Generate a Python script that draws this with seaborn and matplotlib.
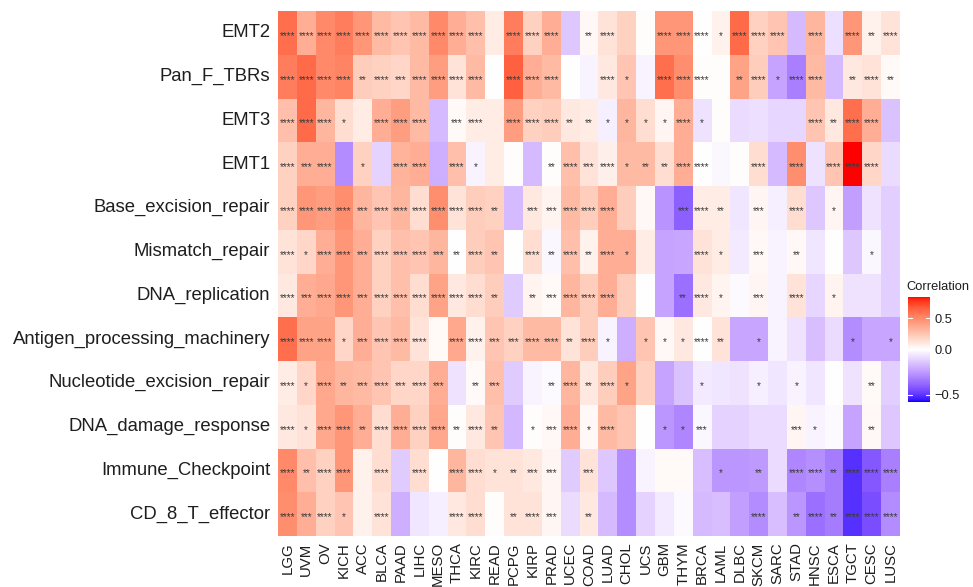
import numpy as np
import pandas as pd
import matplotlib
matplotlib.use("Agg")
import matplotlib.pyplot as plt
from matplotlib.colors import ListedColormap, TwoSlopeNorm
from matplotlib.transforms import offset_copy
import seaborn as sns

cancers = ["LGG", "UVM", "OV", "KICH", "ACC", "BLCA", "PAAD", "LIHC", "MESO", "THCA",
           "KIRC", "READ", "PCPG", "KIRP", "PRAD", "UCEC", "COAD", "LUAD", "CHOL", "UCS",
           "GBM", "THYM", "BRCA", "LAML", "DLBC", "SKCM", "SARC", "STAD", "HNSC", "ESCA",
           "TGCT", "CESC", "LUSC"]

pathways = ["EMT2", "Pan_F_TBRs", "EMT3", "EMT1", "Base_excision_repair", "Mismatch_repair",
            "DNA_replication", "Antigen_processing_machinery", "Nucleotide_excision_repair",
            "DNA_damage_response", "Immune_Checkpoint", "CD_8_T_effector"]

emt2 = [0.60, 0.35, 0.50, 0.55, 0.45, 0.30, 0.25, 0.30, 0.50, 0.35, 0.28, 0.08, 0.55, 0.20, 0.35, -0.14, 0.03,
        0.12, 0.20, 0.01, 0.45, 0.45, 0.00, 0.06, 0.62, 0.20, 0.25, -0.17, 0.32, -0.08, 0.45, 0.06, 0.12]
emt2_p = ["****", "****", "****", "****", "****", "****", "****", "****", "****", "****", "****", "", "****", "****", "****", "", "**",
          "****", "", "", "****", "****", "****", "*", "****", "****", "****", "", "****", "", "****", "**", "****"]

pan_f_tbrs = [0.55, 0.62, 0.50, 0.52, 0.22, 0.20, 0.18, 0.30, 0.42, 0.12, 0.30, 0.00, 0.65, 0.35, 0.30, 0.00, -0.03,
              0.10, 0.25, -0.03, 0.60, 0.48, 0.01, 0.01, 0.40, 0.22, -0.23, -0.32, 0.30, -0.17, 0.10, 0.12, 0.02]
pan_f_tbrs_p = ["****", "****", "****", "****", "**", "****", "***", "****", "****", "****", "****", "", "****", "****", "****", "", "",
                "****", "*", "", "****", "****", "****", "", "**", "****", "*", "****", "****", "", "**", "****", "**"]

emt3 = [0.28, 0.62, 0.32, 0.15, 0.08, 0.35, 0.42, 0.30, -0.17, 0.02, 0.08, 0.08, 0.42, 0.20, 0.22, 0.10, 0.08,
        -0.04, 0.32, 0.15, 0.04, 0.35, -0.07, 0.01, -0.09, -0.08, -0.10, -0.10, 0.25, 0.10, 0.60, 0.35, -0.15]
emt3_p = ["****", "****", "****", "*", "", "****", "****", "****", "", "***", "****", "", "****", "****", "****", "**", "**",
          "*", "*", "*", "*", "****", "*", "", "", "", "", "", "****", "**", "****", "****", ""]

emt1 = [0.20, 0.35, 0.35, -0.29, 0.20, -0.11, 0.33, 0.35, -0.20, 0.28, -0.03, 0.08, 0.01, -0.17, 0.01, 0.28, 0.12,
        0.07, 0.30, 0.30, 0.15, 0.35, 0.00, -0.02, 0.01, 0.15, -0.17, 0.48, -0.07, 0.25, 0.84, 0.18, -0.09]
emt1_p = ["****", "***", "****", "", "*", "", "****", "****", "", "****", "*", "", "", "", "**", "****", "***",
          "****", "*", "**", "**", "****", "****", "", "", "****", "", "****", "", "****", "****", "****", ""]

ber = [0.20, 0.45, 0.42, 0.48, 0.32, 0.25, 0.32, 0.15, 0.48, 0.12, 0.22, 0.20, -0.17, 0.10, 0.05, 0.30, 0.22,
       0.35, 0.22, 0.03, -0.27, -0.40, 0.08, 0.08, -0.06, 0.04, -0.04, 0.15, -0.14, 0.04, -0.24, -0.07, -0.12]
ber_p = ["****", "****", "****", "****", "***", "****", "****", "****", "****", "****", "****", "**", "", "***", "***", "****", "****",
         "****", "", "", "", "***", "****", "**", "", "***", "", "****", "", "*", "", "", ""]

mmr = [0.12, 0.18, 0.35, 0.45, 0.35, 0.20, 0.28, 0.25, 0.32, 0.00, 0.22, 0.25, 0.00, 0.15, -0.02, 0.28, 0.06,
       0.35, 0.35, 0.08, -0.23, -0.22, 0.12, 0.08, -0.05, 0.03, -0.03, 0.03, -0.06, 0.00, -0.14, -0.02, -0.12]
mmr_p = ["****", "*", "****", "****", "***", "****", "****", "****", "***", "**", "****", "**", "", "****", "**", "****", "**",
         "****", "*", "", "", "", "****", "*", "", "***", "", "**", "", "", "", "*", ""]

dna_rep = [0.10, 0.35, 0.38, 0.45, 0.35, 0.20, 0.28, 0.15, 0.40, 0.10, 0.15, 0.22, -0.13, 0.05, 0.02, 0.32, 0.22,
           0.35, 0.22, 0.00, -0.23, -0.36, 0.10, 0.05, -0.01, 0.04, -0.03, 0.12, -0.10, 0.05, -0.07, -0.07, -0.12]
dna_rep_p = ["****", "***", "****", "****", "***", "****", "****", "****", "****", "****", "****", "**", "", "**", "***", "****", "****",
             "****", "", "", "", "**", "****", "*", "", "***", "", "****", "", "*", "", "", ""]

apm = [0.60, 0.40, 0.40, 0.18, 0.35, 0.25, 0.30, 0.12, 0.02, 0.38, 0.06, 0.25, 0.20, 0.30, 0.30, 0.12, 0.22,
       -0.03, -0.20, 0.25, 0.03, 0.10, 0.00, 0.12, -0.22, -0.22, -0.03, -0.07, -0.16, -0.09, -0.29, -0.22, -0.22]
apm_p = ["****", "****", "****", "*", "***", "****", "****", "****", "", "****", "****", "***", "***", "****", "****", "**", "****",
         "*", "", "*", "*", "*", "****", "**", "", "*", "", "", "", "", "*", "", "*"]

ner = [0.08, 0.18, 0.38, 0.32, 0.30, 0.25, 0.18, 0.18, 0.35, -0.07, 0.02, 0.28, -0.13, -0.03, -0.01, 0.32, 0.10,
       0.22, 0.40, 0.20, -0.23, -0.15, -0.05, -0.06, -0.07, -0.04, -0.06, -0.03, -0.06, 0.00, -0.07, 0.02, -0.12]
ner_p = ["****", "*", "****", "**", "***", "****", "***", "****", "***", "", "**", "***", "", "", "**", "****", "**",
         "****", "*", "", "", "", "*", "", "", "*", "", "*", "", "", "", "**", ""]

ddr = [0.10, 0.12, 0.38, 0.45, 0.35, 0.15, 0.35, 0.20, 0.38, 0.01, 0.10, 0.25, -0.18, 0.01, 0.03, 0.35, 0.03,
       0.30, 0.25, 0.00, -0.26, -0.30, -0.02, -0.11, -0.11, -0.09, -0.09, 0.04, -0.03, -0.01, -0.23, 0.03, -0.14]
ddr_p = ["****", "*", "****", "****", "**", "****", "****", "****", "****", "**", "****", "**", "", "*", "***", "****", "*",
         "****", "", "", "*", "*", "***", "", "", "", "", "***", "*", "", "", "**", ""]

icp = [0.50, 0.28, 0.20, 0.45, 0.06, 0.15, -0.13, 0.15, 0.00, 0.32, 0.15, 0.12, 0.12, 0.10, 0.04, -0.13, 0.12,
       -0.14, -0.29, -0.03, 0.02, 0.02, -0.16, -0.26, -0.26, -0.25, -0.09, -0.30, -0.28, -0.33, -0.51, -0.42, -0.32]
icp_p = ["****", "**", "****", "****", "", "****", "", "****", "", "****", "****", "*", "**", "***", "***", "", "***",
         "", "", "", "", "", "", "*", "", "**", "", "****", "****", "**", "****", "****", "****"]

cd8 = [0.48, 0.35, 0.20, 0.25, 0.06, 0.12, -0.20, -0.06, -0.04, 0.10, 0.15, 0.01, 0.12, 0.12, 0.04, -0.09, 0.10,
       -0.17, -0.29, -0.11, -0.05, -0.01, -0.17, -0.16, -0.24, -0.29, -0.16, -0.26, -0.36, -0.33, -0.51, -0.44, -0.29]
cd8_p = ["****", "***", "****", "*", "", "****", "", "", "", "****", "****", "", "**", "****", "***", "", "**",
         "", "", "", "", "", "", "", "", "****", "", "**", "****", "**", "****", "****", "****"]

values = pd.DataFrame([emt2, pan_f_tbrs, emt3, emt1, ber, mmr, dna_rep, apm, ner, ddr, icp, cd8],
                      index=pathways, columns=cancers)
stars = pd.DataFrame([emt2_p, pan_f_tbrs_p, emt3_p, emt1_p, ber_p, mmr_p, dna_rep_p, apm_p, ner_p, ddr_p, icp_p, cd8_p],
                     index=pathways, columns=cancers)


# ---- Lab-interpolated blue-white-red colormap (ggplot scale_fill_gradient2 style) ----
def _srgb_to_lab(rgb):
    rgb = np.asarray(rgb, float)
    lin = np.where(rgb <= 0.04045, rgb / 12.92, ((rgb + 0.055) / 1.055) ** 2.4)
    M = np.array([[0.4124564, 0.3575761, 0.1804375],
                  [0.2126729, 0.7151522, 0.0721750],
                  [0.0193339, 0.1191920, 0.9503041]])
    xyz = M @ lin
    wp = np.array([0.95047, 1.0, 1.08883])
    t = xyz / wp
    f = np.where(t > (6 / 29) ** 3, np.cbrt(t), t / (3 * (6 / 29) ** 2) + 4 / 29)
    return np.array([116 * f[1] - 16, 500 * (f[0] - f[1]), 200 * (f[1] - f[2])])


def _lab_to_srgb(lab):
    L, a, b = lab
    fy = (L + 16) / 116
    fx = fy + a / 500
    fz = fy - b / 200
    d = 6 / 29
    fi = lambda f: np.where(f > d, f ** 3, 3 * d * d * (f - 4 / 29))
    wp = np.array([0.95047, 1.0, 1.08883])
    xyz = np.array([fi(fx), fi(fy), fi(fz)]) * wp
    Minv = np.array([[3.2404542, -1.5371385, -0.4985314],
                     [-0.9692660, 1.8760108, 0.0415560],
                     [0.0556434, -0.2040259, 1.0572252]])
    lin = np.clip(Minv @ xyz, 0, 1)
    srgb = np.where(lin <= 0.0031308, 12.92 * lin, 1.055 * lin ** (1 / 2.4) - 0.055)
    return np.clip(srgb, 0, 1)


lab_blue = _srgb_to_lab([0, 0, 1])
lab_white = _srgb_to_lab([1, 1, 1])
lab_red = _srgb_to_lab([1, 0, 0])
cols = []
N = 256
for i in range(N):
    x = i / (N - 1)
    if x <= 0.5:
        t = x / 0.5
        lab = lab_blue * (1 - t) + lab_white * t
    else:
        t = (x - 0.5) / 0.5
        lab = lab_white * (1 - t) + lab_red * t
    cols.append(_lab_to_srgb(lab))
cmap = ListedColormap(np.array(cols))
norm = TwoSlopeNorm(vmin=-0.58, vcenter=0.0, vmax=0.84)

sns.set_style("white")
plt.rcParams["font.family"] = ["Liberation Sans", "DejaVu Sans"]

fig = plt.figure(figsize=(9.73, 5.87), dpi=100)
W, H = 973, 587
ax = fig.add_axes([278 / W, (H - 536) / H, 622 / W, 525 / H])
cax = fig.add_axes([908 / W, (H - 402) / H, 22 / W, 105 / H])

sns.heatmap(values, ax=ax, cmap=cmap, norm=norm, annot=stars, fmt="",
            annot_kws={"size": 7.2, "color": "#3a3a3a"},
            linewidths=0,
            cbar=True, cbar_ax=cax,
            xticklabels=cancers, yticklabels=pathways)

# asterisks sit high in their glyph box: nudge them down to the cell centre
for t in ax.texts:
    t.set_transform(offset_copy(t.get_transform(), fig=fig, y=-2.2, units="points"))

ax.tick_params(axis="y", length=0, pad=5.5)
ax.tick_params(axis="x", length=0, pad=4.5)
ax.set_xlabel("")
ax.set_ylabel("")
for lab in ax.get_yticklabels():
    lab.set_rotation(0)
    lab.set_fontsize(13.3)
    lab.set_color("#1e1e1e")
for lab in ax.get_xticklabels():
    lab.set_rotation(90)
    lab.set_fontsize(10.8)
    lab.set_color("#1e1e1e")

cb = ax.collections[0].colorbar
cb.set_ticks([-0.5, 0.0, 0.5])
cb.set_ticklabels(["\u22120.5", "0.0", "0.5"])
cb.outline.set_visible(False)
cax.tick_params(length=0, labelsize=9.3, labelcolor="#1e1e1e", pad=3)
for v in [-0.5, 0.0, 0.5]:
    cax.plot([0, 0.2], [v, v], color="white", lw=0.8, transform=cax.get_yaxis_transform())
    cax.plot([0.8, 1.0], [v, v], color="white", lw=0.8, transform=cax.get_yaxis_transform())
fig.text(906 / W, (H - 287) / H, "Correlation", fontsize=9.3, color="#1e1e1e", va="center", ha="left")

fig.savefig("out.png", dpi=100, facecolor="white")
